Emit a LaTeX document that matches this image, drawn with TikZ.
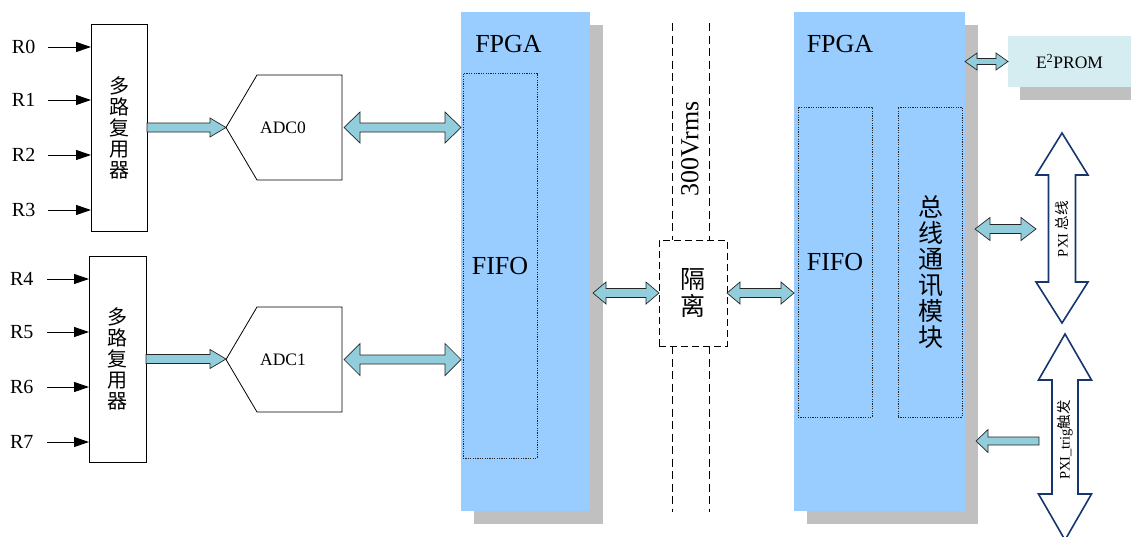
\documentclass[tikz,border=0pt]{standalone}
\usepackage{fontspec}
\setmainfont{Liberation Serif}
\newfontfamily\cjk{Noto Sans CJK SC}
\usetikzlibrary{calc,arrows.meta}
\definecolor{fpgablue}{RGB}{153,204,255}
\definecolor{shadowgray}{RGB}{192,192,192}
\definecolor{arrteal}{RGB}{146,205,220}
\definecolor{epromfill}{RGB}{213,236,241}
\definecolor{pxinavy}{RGB}{23,54,110}
\tikzset{
  every node/.style={inner sep=0pt, outer sep=0pt},
  muxbox/.style={draw=black, line width=0.8pt, fill=white, align=center,
    font=\cjk\fontsize{20}{21}\selectfont},
  rlabel/.style={anchor=west, font=\fontsize{20}{24}\selectfont},
  rarrow/.style={-{Triangle[length=15pt,width=10pt]}, line width=1pt},
  adcnode/.style={minimum width=116pt, minimum height=105pt, font=\fontsize{17.5}{20}\selectfont},
  adcshape/.style={draw=black, line width=0.8pt, fill=white},
  fpgabox/.style={fill=fpgablue, minimum height=499pt},
  shadowfill/.style={fill=shadowgray},
  dotbox/.style={draw=black!85, line width=0.8pt, dash pattern=on 1.2pt off 1.2pt},
  bigtext/.style={font=\fontsize{26}{28}\selectfont},
  barrow/.style={fill=arrteal, draw=black!85, line width=0.7pt, line join=miter},
  isobox/.style={draw=black, line width=0.8pt, dash pattern=on 7pt off 4pt, fill=white,
    minimum width=68pt, minimum height=106pt, align=center, font=\cjk\fontsize{25}{27}\selectfont},
  isoline/.style={draw=black, line width=0.8pt, dash pattern=on 8pt off 4.5pt},
  epbox/.style={fill=epromfill, minimum width=123pt, minimum height=51pt, font=\fontsize{17.5}{20}\selectfont},
  pxiarrow/.style={draw=pxinavy, line width=1.6pt, fill=white, line join=miter},
  pxitext/.style={rotate=90, font=\fontsize{14.5}{16}\selectfont},
}
% double horizontal block arrow: from #2 to #3 (y of #2), shaft half #4, head half #5, head length #6
\newcommand{\BArrowD}[6][]{%
  \draw[barrow,#1] let \p1=(#2), \p2=(#3) in
   (\x1,\y1) -- (\x1+#6,\y1+#5) -- (\x1+#6,\y1+#4) -- (\x2-#6,\y1+#4) -- (\x2-#6,\y1+#5)
   -- (\x2,\y1) -- (\x2-#6,\y1-#5) -- (\x2-#6,\y1-#4) -- (\x1+#6,\y1-#4) -- (\x1+#6,\y1-#5) -- cycle;}
% single block arrow pointing right: tail #2, tip #3
\newcommand{\BArrowR}[6][]{%
  \draw[barrow,#1] let \p1=(#2), \p2=(#3) in
   (\x1,\y1+#4) -- (\x2-#6,\y1+#4) -- (\x2-#6,\y1+#5) -- (\x2,\y1)
   -- (\x2-#6,\y1-#5) -- (\x2-#6,\y1-#4) -- (\x1,\y1-#4) -- cycle;}
% single block arrow pointing left: tail #2, tip #3
\newcommand{\BArrowLft}[6][]{%
  \draw[barrow,#1] let \p1=(#2), \p2=(#3) in
   (\x1,\y1+#4) -- (\x2+#6,\y1+#4) -- (\x2+#6,\y1+#5) -- (\x2,\y1)
   -- (\x2+#6,\y1-#5) -- (\x2+#6,\y1-#4) -- (\x1,\y1-#4) -- cycle;}
\begin{document}
\begin{tikzpicture}[x=1pt,y=-1pt]
\useasboundingbox (0,0) rectangle (1131,536);
\fill[white] (0,0) rectangle (1131,536);

% ---- FPGA blocks with shadows
\node[fpgabox, minimum width=129pt] (fpga1) at (525.5,261.5) {};
\node[fpgabox, minimum width=171pt] (fpga2) at (879.5,261.5) {};
\fill[shadowfill] ([shift={(13pt,-13pt)}]fpga1.north west) rectangle ([shift={(13pt,-13pt)}]fpga1.south east);
\fill[shadowfill] ([shift={(13pt,-13pt)}]fpga2.north west) rectangle ([shift={(13pt,-13pt)}]fpga2.south east);
\fill[fpgablue] (fpga1.north west) rectangle (fpga1.south east);
\fill[fpgablue] (fpga2.north west) rectangle (fpga2.south east);

\node[bigtext] (fpga1lbl) at (508.5,44) {FPGA};
\node[bigtext] (fpga2lbl) at (840,44) {FPGA};

\node[dotbox, minimum width=74pt, minimum height=384.5pt] (fifo1) at (500,265.75) {};
\node[bigtext] (fifo1lbl) at (fifo1) {FIFO};
\node[dotbox, minimum width=74pt, minimum height=310pt] (fifo2) at (835,262) {};
\node[bigtext] (fifo2lbl) at (fifo2) {FIFO};
\node[dotbox, minimum width=64pt, minimum height=310pt] (comm) at (930,262) {};
\node[align=center, font=\cjk\fontsize{25}{26}\selectfont] (commlbl) at (931,272) {总\\线\\通\\讯\\模\\块};

% ---- inputs and multiplexers
\node[muxbox, minimum width=56pt, minimum height=207pt] (mux1) at (119,127.5) {多\\路\\复\\用\\器};
\node[muxbox, minimum width=57pt, minimum height=206pt] (mux2) at (117.5,359) {多\\路\\复\\用\\器};

\foreach \n/\yy in {0/47,1/100,2/155,3/210}{
  \node[rlabel] (R\n) at (12,\yy) {R\n};
  \draw[rarrow] ([xshift=13pt]R\n.east) -- (R\n.east -| mux1.west);
}
\foreach \n/\yy in {4/279,5/332,6/387,7/442}{
  \node[rlabel] (R\n) at (10,\yy) {R\n};
  \draw[rarrow] ([xshift=14pt]R\n.east) -- (R\n.east -| mux2.west);
}

% ---- ADCs
\node[adcnode] (adc0) at (284,127.5) {};
\draw[adcshape] (adc0.west) -- ([xshift=31pt]adc0.north west) -- (adc0.north east)
  -- (adc0.south east) -- ([xshift=31pt]adc0.south west) -- cycle;
\node[font=\fontsize{17.5}{20}\selectfont] (adc0lbl) at (283,127.5) {ADC0};
\node[adcnode] (adc1) at (284,359.5) {};
\draw[adcshape] (adc1.west) -- ([xshift=31pt]adc1.north west) -- (adc1.north east)
  -- (adc1.south east) -- ([xshift=31pt]adc1.south west) -- cycle;
\node[font=\fontsize{17.5}{20}\selectfont] (adc1lbl) at (283,359.5) {ADC1};

\BArrowR{mux1.east}{adc0.west}{4.5pt}{9.5pt}{16pt}
\BArrowR{mux2.east}{adc1.west}{4.5pt}{9.5pt}{16pt}
\BArrowD{$(adc0.east)+(2pt,0)$}{fpga1.west}{4.5pt}{15.5pt}{16pt}
\BArrowD{$(adc1.east)+(2pt,0)$}{fpga1.west}{4.5pt}{16pt}{16pt}

% ---- isolation barrier
\node[isobox] (iso) at (693,293) {隔\\离};
\coordinate (dlAtop) at (672,23);
\coordinate (dlBtop) at (709,23);
\coordinate (dlAbot) at (672,512);
\coordinate (dlBbot) at (709,512);
\draw[isoline] (dlAtop) -- (dlAtop |- iso.north);
\draw[isoline] (dlBtop) -- (dlBtop |- iso.north);
\draw[isoline] (dlAbot |- iso.south) -- (dlAbot);
\draw[isoline] (dlBbot |- iso.south) -- (dlBbot);
\node[bigtext, rotate=90] (vrms) at (690,149) {300Vrms};

\BArrowD{$(iso.west -| fpga1.east)+(3pt,0)$}{iso.west}{4.5pt}{11pt}{13pt}
\BArrowD{iso.east}{fpga2.west}{4.5pt}{11pt}{13pt}

% ---- E2PROM
\node[epbox] (eprom) at (1069.5,61.5) {};
\fill[shadowfill] ([shift={(12pt,-13pt)}]eprom.north west) rectangle ([shift={(12pt,-13pt)}]eprom.south east);
\fill[epromfill] (eprom.north west) rectangle (eprom.south east);
\node[font=\fontsize{17.5}{20}\selectfont] (epromlbl) at (1069.5,61.5) {E\textsuperscript{2}PROM};
\BArrowD{$(eprom.west -| fpga2.east)$}{eprom.west}{3pt}{8.5pt}{12pt}

% ---- PXI bus
\draw[pxiarrow] (1062,133) -- (1088,175) -- (1075.5,175) -- (1075.5,282) -- (1088,282)
  -- (1062,323) -- (1036,282) -- (1048.5,282) -- (1048.5,175) -- (1036,175) -- cycle;
\node[pxitext] (pxibus) at (1062,229) {PXI {\cjk 总线}};
\BArrowD{$(pxibus.center -| fpga2.east)+(10pt,0)$}{$(pxibus.center)+(-26pt,0)$}{4.5pt}{11.5pt}{15pt}

% ---- PXI trigger
\draw[pxiarrow] (1065,334) -- (1091.5,380) -- (1078,380) -- (1078,494) -- (1091.5,494)
  -- (1065,540) -- (1038.5,494) -- (1052,494) -- (1052,380) -- (1038.5,380) -- cycle;
\node[pxitext] (pxitrig) at (1065,440) {PXI\_trig{\cjk 触发}};
\BArrowLft{$(pxitrig.center)+(-26pt,-1pt)$}{$(pxitrig.center -| fpga2.east)+(11pt,-1pt)$}{4pt}{11.5pt}{12pt}
\end{tikzpicture}
\end{document}
